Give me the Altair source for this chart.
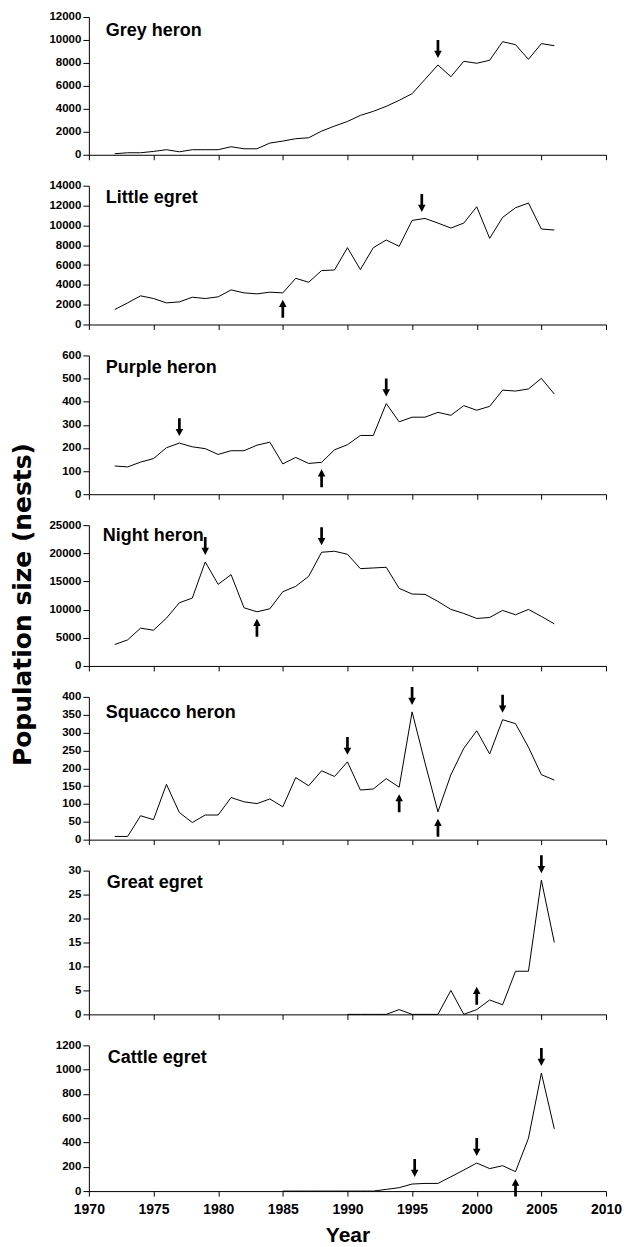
import altair as alt
import pandas as pd

# ---------------- data ----------------
years = list(range(1972, 2007))
cattle_years = list(range(1985, 2007))
great_years = list(range(1990, 2007))

grey_heron = [90, 175, 175, 290, 440, 260, 440, 440, 440, 700, 520, 520, 1020, 1190,
              1400, 1480, 2060, 2500, 2900, 3430, 3780, 4220, 4740, 5320, 6570, 7820,
              6800, 8140, 7970, 8230, 9850, 9590, 8310, 9680, 9500]
little_egret = [1510, 2180, 2890, 2620, 2180, 2280, 2750, 2620, 2790, 3490, 3190, 3090,
                3260, 3190, 4660, 4260, 5440, 5500, 7750, 5540, 7750, 8520, 7890, 10500,
                10700, 10230, 9730, 10230, 11880, 8690, 10800, 11780, 12250, 9630, 9530]
purple_heron = [122, 118, 139, 154, 201, 221, 205, 197, 172, 188, 188, 212, 225, 131,
                159, 133, 138, 192, 214, 254, 254, 392, 313, 333, 333, 354, 341, 383,
                363, 380, 450, 446, 455, 501, 433]
night_heron = [3800, 4630, 6710, 6350, 8490, 11220, 12050, 18470, 14490, 16210, 10330,
               9620, 10150, 13180, 14130, 15910, 20190, 20370, 19830, 17280, 17400,
               17520, 13780, 12770, 12710, 11460, 10040, 9320, 8430, 8610, 9860, 9090,
               10040, 8790, 7480]
squacco_heron = [9, 9, 67, 56, 155, 76, 48, 69, 69, 118, 106, 101, 114, 92, 174, 151,
                 193, 177, 218, 139, 142, 171, 147, 358, 215, 78, 182, 256, 305, 240,
                 336, 325, 259, 182, 167]
great_egret = [0, 0, 0, 0, 1, 0, 0, 0, 5, 0, 1, 3, 2, 9, 9, 28, 15]
cattle_egret = [0, 0, 0, 0, 0, 0, 0, 0, 14, 28, 58, 63, 63, 118, 173, 231, 185, 209,
                160, 435, 972, 512]

species = ["Grey heron", "Little egret", "Purple heron", "Night heron",
           "Squacco heron", "Great egret", "Cattle egret"]
series_years = [years, years, years, years, years, great_years, cattle_years]
series_values = [grey_heron, little_egret, purple_heron, night_heron,
                 squacco_heron, great_egret, cattle_egret]
y_max = [12000, 14000, 600, 25000, 400, 30, 1200]
y_step = [2000, 2000, 100, 5000, 50, 5, 200]

arrow_years = [[1997], [1985, 1995.75], [1977, 1988, 1993], [1979, 1983, 1988],
               [1990, 1994, 1995, 1997, 2002], [2000, 2005], [1995.2, 2000, 2003, 2005]]
arrow_levels = [[7820], [3190, 10650], [221, 138, 392], [18470, 9620, 20190],
                [218, 147, 358, 78, 336], [7.2, 28], [58, 231, 160, 972]]
arrow_dirs = [["down"], ["up", "down"], ["down", "up", "down"], ["down", "up", "down"],
              ["down", "up", "down", "up", "down"], ["up", "down"],
              ["down", "down", "up", "down"]]

x_ticks = list(range(1970, 2011, 5))

# ---------------- styling ----------------
FONT = "Liberation Sans"
heights = [138, 139, 139, 141, 143, 144, 146]
label_dx = [17, 17, 17, 14, 17, 18, 19]
label_dy = [19, 17, 18, 16, 21, 17, 18]
W = 518
DOWN = "M-0.15,-1 L0.15,-1 L0.15,0.2 L0.42,0.2 L0,1 L-0.42,0.2 L-0.15,0.2 Z"
UP = "M-0.15,1 L0.15,1 L0.15,-0.2 L0.42,-0.2 L0,-1 L-0.42,-0.2 L-0.15,-0.2 Z"

panels = []
n = len(species)
for i in range(n):
    last = (i == n - 1)
    df = pd.DataFrame({"year": series_years[i], "value": series_values[i]})
    adf = pd.DataFrame({"year": arrow_years[i], "value": arrow_levels[i],
                        "dir": arrow_dirs[i]})

    if last:
        x_axis = alt.Axis(values=x_ticks, format="d", tickSize=5, labelPadding=6,
                          labelFontSize=14, labelFlush=False, title="Year",
                          titleFontSize=21, titleFont=FONT, titleFontWeight="bold",
                          titlePadding=8, titleColor="black")
    else:
        x_axis = alt.Axis(values=x_ticks, format="d", tickSize=5, labels=False)

    y_kwargs = dict(values=list(range(0, y_max[i] + 1, y_step[i])), format="d",
                    tickSize=6, labelPadding=2, labelFontSize=11.5, labelFlush=False)
    if i == 3:
        y_axis = alt.Axis(title="Population size (nests)", titleFont="DejaVu Sans",
                          titleFontSize=25, titleFontWeight="bold", titleColor="black",
                          titleAngle=270, titleX=-66, titleY=79, titleAlign="center",
                          titleBaseline="middle", **y_kwargs)
    else:
        y_axis = alt.Axis(title=None, **y_kwargs)

    x_enc = alt.X("year:Q", scale=alt.Scale(domain=[1970, 2010], nice=False),
                  axis=x_axis, title="Year" if last else None)
    y_enc = alt.Y("value:Q", scale=alt.Scale(domain=[0, y_max[i]], nice=False),
                  axis=y_axis,
                  title="Population size (nests)" if i == 3 else None)

    line = alt.Chart(df).mark_line(color="black", strokeWidth=1).encode(x=x_enc, y=y_enc)
    layers = [line]
    down_df = adf[adf["dir"] == "down"]
    up_df = adf[adf["dir"] == "up"]
    if len(down_df):
        layers.append(alt.Chart(down_df).mark_point(
            shape=DOWN, size=324, filled=True, color="black", opacity=1,
            strokeWidth=0, yOffset=-16).encode(x=x_enc, y=y_enc))
    if len(up_df):
        layers.append(alt.Chart(up_df).mark_point(
            shape=UP, size=324, filled=True, color="black", opacity=1,
            strokeWidth=0, yOffset=16).encode(x=x_enc, y=y_enc))
    label = alt.Chart(pd.DataFrame({"name": [species[i]]})).mark_text(
        align="left", baseline="alphabetic", font=FONT, fontSize=18,
        fontWeight="bold", color="black").encode(
        x=alt.value(label_dx[i]), y=alt.value(label_dy[i]), text="name:N")
    layers.append(label)

    panels.append(alt.layer(*layers).properties(width=W, height=heights[i]))

chart = alt.vconcat(*panels, spacing=31, bounds="flush").properties(
    padding={"left": 2, "top": 2, "right": 2, "bottom": 0}
).configure_view(stroke=None).configure_axis(
    labelFont=FONT, labelFontWeight="bold", labelColor="black",
    domainColor="black", tickColor="black", domainWidth=1, tickWidth=1, grid=False
)

chart.save("out.html", embed_options={"renderer": "svg", "actions": False})
